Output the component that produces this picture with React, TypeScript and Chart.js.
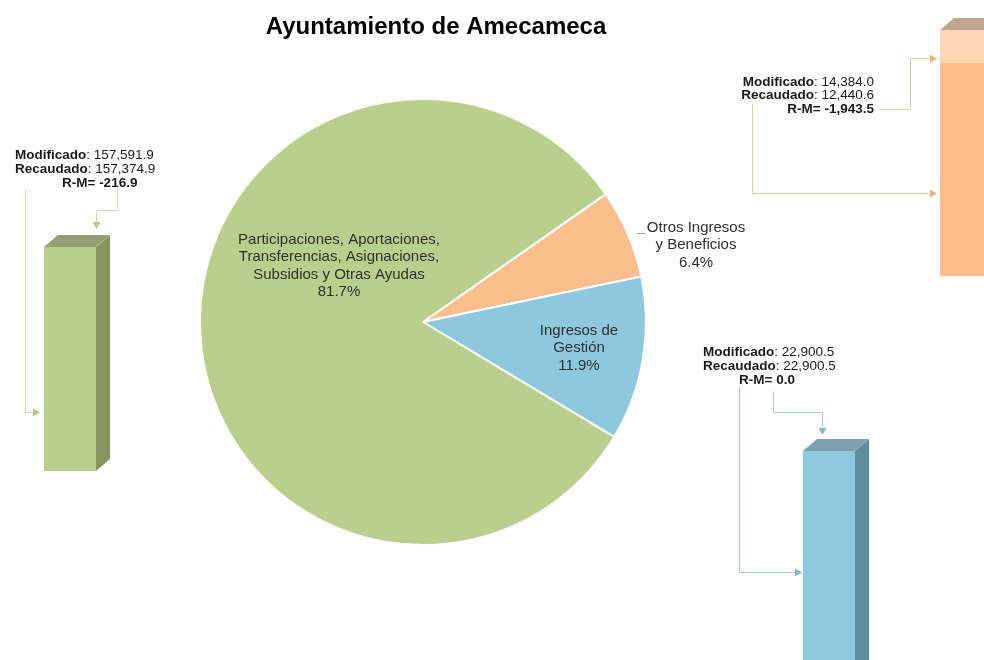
import React, { useEffect, useRef } from "react";
import { Chart, registerables } from "chart.js";
Chart.register(...registerables);

// ---------- data ----------
const chartTitle = "Ayuntamiento de Amecameca";
const categories = [
  "Otros Ingresos y Beneficios",
  "Ingresos de Gestión",
  "Participaciones, Aportaciones, Transferencias, Asignaciones, Subsidios y Otras Ayudas",
];
const labelLines = [
  ["Otros Ingresos", "y Beneficios"],
  ["Ingresos de", "Gestión"],
  ["Participaciones, Aportaciones,", "Transferencias, Asignaciones,", "Subsidios y Otras Ayudas"],
];
const percentLabels = ["6.4%", "11.9%", "81.7%"];
const modificado = [14384.0, 22900.5, 157591.9];
const recaudado = [12440.6, 22900.5, 157374.9];
const diferencia = [-1943.5, 0.0, -216.9];

// ---------- styles / layout ----------
const FONT = "'Liberation Sans', Arial, sans-serif";
const pieColors = ["#fabe8c", "#8dc8df", "#b9d08c"];
const barStyles = [
  { front: "#fbbd8c", light: "#fdd6b5", side: "#c4926c", sideLight: "#d9b89c", top: "#bea690" },
  { front: "#8ccadf", light: "#b5dcea", side: "#5e8e9e", sideLight: "#8fb2bf", top: "#7d9fae" },
  { front: "#b8cf8b", light: "#d3e2b5", side: "#84955f", sideLight: "#a7b68a", top: "#939f76" },
];
const barBoxes = [
  { left: 926, top: 10, width: 100, height: 280, pad: { left: 14, right: 34, top: 20, bottom: 14 } },
  { left: 789, top: 424, width: 100, height: 280, pad: { left: 14, right: 34, top: 27, bottom: 23 } },
  { left: 30, top: 220, width: 100, height: 270, pad: { left: 14, right: 34, top: 27, bottom: 19 } },
];
const DEPTH_X = 14;
const DEPTH_Y = 12;

const labelPos = [
  { x: 696, y: 228 },
  { x: 579, y: 331 },
  { x: 339, y: 240 },
];

type LineSpec = { x: number; align: CanvasTextAlign };
const annotations = [
  {
    ys: [82, 95, 109],
    lines: [{ x: 874, align: "right" }, { x: 874, align: "right" }, { x: 874, align: "right" }] as LineSpec[],
    color: "#f3c6a0",
    arrow: "#f0b07a",
    paths: [
      { pts: [[878, 109], [910, 109], [910, 58], [936, 58]], dir: "right" },
      { pts: [[752, 103], [752, 193], [936, 193]], dir: "right" },
    ],
  },
  {
    ys: [352, 366, 380],
    lines: [{ x: 703, align: "left" }, { x: 703, align: "left" }, { x: 739, align: "left" }] as LineSpec[],
    color: "#9fcfe0",
    arrow: "#7fb9cf",
    paths: [
      { pts: [[773, 391], [773, 412], [822, 412], [822, 434]], dir: "down" },
      { pts: [[739, 386], [739, 572], [801, 572]], dir: "right" },
    ],
  },
  {
    ys: [155, 169, 183],
    lines: [{ x: 15, align: "left" }, { x: 15, align: "left" }, { x: 62, align: "left" }] as LineSpec[],
    color: "#cbdcae",
    arrow: "#b3ca85",
    paths: [
      { pts: [[117, 189], [117, 210], [96, 210], [96, 228]], dir: "down" },
      { pts: [[25, 189], [25, 412], [39, 412]], dir: "right" },
    ],
  },
];

const fmt = (v: number) =>
  v.toLocaleString("en-US", { minimumFractionDigits: 1, maximumFractionDigits: 1 });

function drawRich(
  ctx: CanvasRenderingContext2D,
  x: number,
  y: number,
  bold: string,
  normal: string,
  align: CanvasTextAlign
) {
  ctx.font = `bold 13.5px ${FONT}`;
  const wb = ctx.measureText(bold).width;
  ctx.font = `13.5px ${FONT}`;
  const wn = ctx.measureText(normal).width;
  const total = wb + wn;
  let sx = x;
  if (align === "right") sx = x - total;
  else if (align === "center") sx = x - total / 2;
  ctx.textAlign = "left";
  ctx.font = `bold 13.5px ${FONT}`;
  ctx.fillText(bold, sx, y);
  ctx.font = `13.5px ${FONT}`;
  ctx.fillText(normal, sx + wb, y);
}

const overlayPlugin = {
  id: "overlay",
  afterDraw(chart: any) {
    const ctx: CanvasRenderingContext2D = chart.ctx;
    ctx.save();
    // title
    ctx.fillStyle = "#000";
    ctx.font = `bold 24px ${FONT}`;
    ctx.textAlign = "center";
    ctx.textBaseline = "alphabetic";
    ctx.fillText(chartTitle, 436, 34);

    // slice labels
    ctx.textBaseline = "middle";
    ctx.fillStyle = "#303030";
    ctx.font = `15px ${FONT}`;
    labelLines.forEach((lines, i) => {
      const all = [...lines, percentLabels[i]];
      all.forEach((t, j) => {
        ctx.fillText(t, labelPos[i].x, labelPos[i].y + j * 17.3);
      });
    });
    // small leader mark near outside label
    ctx.strokeStyle = "#a0a0a0";
    ctx.lineWidth = 1;
    ctx.beginPath();
    ctx.moveTo(637, 233.5);
    ctx.lineTo(646, 233.5);
    ctx.stroke();

    // annotations
    annotations.forEach((a, i) => {
      ctx.fillStyle = "#1a1a1a";
      ctx.textBaseline = "middle";
      drawRich(ctx, a.lines[0].x, a.ys[0], "Modificado", ": " + fmt(modificado[i]), a.lines[0].align);
      drawRich(ctx, a.lines[1].x, a.ys[1], "Recaudado", ": " + fmt(recaudado[i]), a.lines[1].align);
      drawRich(ctx, a.lines[2].x, a.ys[2], "R-M= " + fmt(diferencia[i]), "", a.lines[2].align);

      a.paths.forEach((p) => {
        ctx.strokeStyle = a.color;
        ctx.lineWidth = 1;
        ctx.beginPath();
        p.pts.forEach(([px, py], k) => {
          if (k === 0) ctx.moveTo(px + 0.5, py + 0.5);
          else ctx.lineTo(px + 0.5, py + 0.5);
        });
        ctx.stroke();
        const [ex, ey] = p.pts[p.pts.length - 1];
        ctx.fillStyle = a.arrow;
        ctx.beginPath();
        if (p.dir === "down") {
          ctx.moveTo(ex + 0.5 - 4, ey - 6);
          ctx.lineTo(ex + 0.5 + 4, ey - 6);
          ctx.lineTo(ex + 0.5, ey + 1);
        } else {
          ctx.moveTo(ex - 6, ey + 0.5 - 4);
          ctx.lineTo(ex - 6, ey + 0.5 + 4);
          ctx.lineTo(ex + 1, ey + 0.5);
        }
        ctx.closePath();
        ctx.fill();
      });
    });
    ctx.restore();
  },
};

function make3DPlugin(style: (typeof barStyles)[number]) {
  return {
    id: "bar3d",
    afterDatasetsDraw(chart: any) {
      const ctx: CanvasRenderingContext2D = chart.ctx;
      ctx.save();
      let topY = Infinity;
      let topLeft = 0;
      let topRight = 0;
      chart.data.datasets.forEach((_: any, di: number) => {
        const meta = chart.getDatasetMeta(di);
        meta.data.forEach((el: any) => {
          const { x, y, base, width } = el.getProps(["x", "y", "base", "width"], true);
          const l = x - width / 2;
          const r = x + width / 2;
          const t = Math.min(y, base);
          const b = Math.max(y, base);
          if (b - t > 0.01) {
            ctx.fillStyle = di === 0 ? style.side : style.sideLight;
            ctx.beginPath();
            ctx.moveTo(r, t);
            ctx.lineTo(r + DEPTH_X, t - DEPTH_Y);
            ctx.lineTo(r + DEPTH_X, b - DEPTH_Y);
            ctx.lineTo(r, b);
            ctx.closePath();
            ctx.fill();
          }
          if (t < topY) {
            topY = t;
            topLeft = l;
            topRight = r;
          }
        });
      });
      if (isFinite(topY)) {
        ctx.fillStyle = style.top;
        ctx.beginPath();
        ctx.moveTo(topLeft, topY);
        ctx.lineTo(topLeft + DEPTH_X, topY - DEPTH_Y);
        ctx.lineTo(topRight + DEPTH_X, topY - DEPTH_Y);
        ctx.lineTo(topRight, topY);
        ctx.closePath();
        ctx.fill();
      }
      ctx.restore();
    },
  };
}

function Bar3D({ index }: { index: number }) {
  const ref = useRef<HTMLCanvasElement | null>(null);
  const box = barBoxes[index];
  const style = barStyles[index];
  useEffect(() => {
    if (!ref.current) return;
    const chart = new Chart(ref.current, {
      type: "bar",
      data: {
        labels: [categories[index]],
        datasets: [
          {
            label: "Recaudado",
            data: [recaudado[index]],
            backgroundColor: style.front,
            borderWidth: 0,
            barPercentage: 1,
            categoryPercentage: 1,
          },
          {
            label: "Modificado - Recaudado",
            data: [modificado[index] - recaudado[index]],
            backgroundColor: style.light,
            borderWidth: 0,
            barPercentage: 1,
            categoryPercentage: 1,
          },
        ],
      },
      options: {
        responsive: false,
        animation: false,
        events: [],
        layout: { padding: box.pad },
        scales: {
          x: { display: false, stacked: true },
          y: { display: false, stacked: true, min: 0, max: modificado[index] },
        },
        plugins: { legend: { display: false }, tooltip: { enabled: false }, title: { display: false } },
      },
      plugins: [make3DPlugin(style)],
    } as any);
    return () => chart.destroy();
  }, [index]);
  return (
    <canvas
      ref={ref}
      width={box.width}
      height={box.height}
      style={{ position: "absolute", left: box.left, top: box.top, width: box.width, height: box.height }}
    />
  );
}

export default function App() {
  const ref = useRef<HTMLCanvasElement | null>(null);
  useEffect(() => {
    document.body.style.margin = "0";
    document.body.style.overflow = "hidden";
    if (!ref.current) return;
    const chart = new Chart(ref.current, {
      type: "pie",
      data: {
        labels: categories,
        datasets: [
          {
            data: recaudado,
            backgroundColor: pieColors,
            borderColor: "#ffffff",
            borderWidth: 2,
            hoverOffset: 0,
            radius: 223,
          },
        ],
      },
      options: {
        responsive: false,
        animation: false,
        events: [],
        rotation: 55,
        layout: { padding: { left: 200, right: 338, top: 99, bottom: 115 } },
        plugins: { legend: { display: false }, tooltip: { enabled: false }, title: { display: false } },
      },
      plugins: [overlayPlugin],
    } as any);
    return () => chart.destroy();
  }, []);
  return (
    <div style={{ position: "relative", width: 984, height: 660, overflow: "hidden", background: "#fff" }}>
      <canvas ref={ref} width={984} height={660} style={{ position: "absolute", left: 0, top: 0, width: 984, height: 660 }} />
      <Bar3D index={0} />
      <Bar3D index={1} />
      <Bar3D index={2} />
    </div>
  );
}
